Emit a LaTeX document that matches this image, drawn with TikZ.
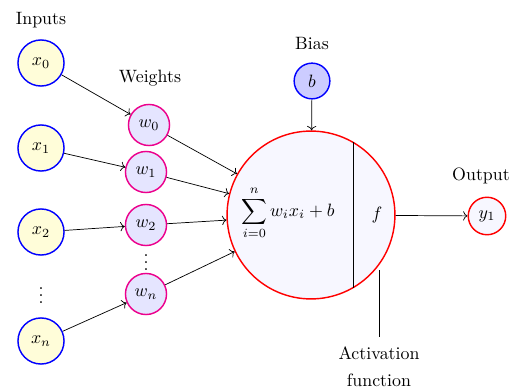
\documentclass[tikz,border=0pt]{standalone}
\usetikzlibrary{arrows.meta,calc}
\begin{document}
\begin{tikzpicture}[x=0.56pt,y=-0.56pt,
  inbox/.style={circle,draw=blue,fill=yellow!15,thick,minimum size=25.8pt,inner sep=0pt},
  wbox/.style={circle,draw=magenta,fill=blue!10,thick,minimum size=23pt,inner sep=0pt},
  dots/.style={inner sep=0pt},
  conn/.style={->,>=To},
  lbl/.style={inner sep=1pt}]
\useasboundingbox (0,0) rectangle (516,391);
% inputs
\node[inbox] (x0) at (41,63) {$x_0$};
\node[inbox] (x1) at (41,148) {$x_1$};
\node[inbox] (x2) at (41,232) {$x_2$};
\node[dots] (xd) at (41,290) {$\vdots$};
\node[inbox] (xn) at (41,341) {$x_n$};
\node[lbl] (inl) at (41,20) {Inputs};
% weights
\node[wbox] (w0) at (149,125) {$w_0$};
\node[wbox] (w1) at (146,172) {$w_1$};
\node[wbox] (w2) at (146,225) {$w_2$};
\node[dots] (wd) at (146,257) {$\vdots$};
\node[wbox] (wn) at (146,294) {$w_n$};
\node[lbl] (wl) at (150,78) {Weights};
% neuron
\node[circle,draw=red,fill=blue!3,thick,minimum size=94pt,inner sep=0pt] (neuron) at (311,215) {};
\draw (neuron.60.8) -- (neuron.-60.8);
\node[inner sep=0pt] (sum) at (288,213) {$\displaystyle\sum_{i=0}^{n} w_i x_i + b$};
\node (f) at (377,215) {$f$};
% bias
\node[circle,draw=blue,fill=blue!20,thick,minimum size=20pt,inner sep=0pt] (b) at (312,81) {$b$};
\node[lbl] (bl) at (312,44) {Bias};
% output
\node[circle,draw=red,fill=blue!3,thick,minimum size=21pt,inner sep=0pt] (y1) at (487,216) {$y_1$};
\node[lbl] (ol) at (481,176) {Output};
% activation
\coordinate (at) at (379,270);
\coordinate (ab) at (379,337);
\node[align=center,anchor=north,inner sep=2pt] (al) at (379,343) {Activation\\[3pt]function};
\draw (at) -- (ab);
% connectors
\draw[conn] (x0) -- (w0);
\draw[conn] (x1) -- (w1);
\draw[conn] (x2) -- (w2);
\draw[conn] (xn) -- (wn);
\draw[conn] (w0) -- (neuron);
\draw[conn] (w1) -- (neuron);
\draw[conn] (w2) -- (neuron);
\draw[conn] (wn) -- (neuron);
\draw[conn] (b) -- (neuron);
\draw[conn] (neuron) -- (y1);
\end{tikzpicture}
\end{document}
